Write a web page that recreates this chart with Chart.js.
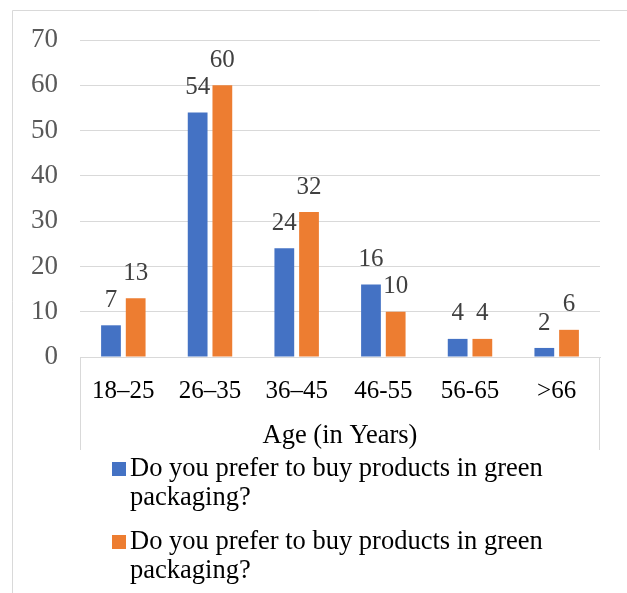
<!DOCTYPE html>
<html>
<head>
<meta charset="utf-8">
<script src="https://cdn.jsdelivr.net/npm/chart.js@4"></script>
<style>
  html, body { margin: 0; padding: 0; background: #fff; }
  canvas { display: block; }
</style>
</head>
<body>
<canvas id="ageChart" width="627" height="593"></canvas>
<script>
const ageGroups = ['18–25', '26–35', '36–45', '46-55', '56-65', '>66'];
const seriesLabels = [
  ['Do you prefer to buy products in green', 'packaging?'],
  ['Do you prefer to buy products in green', 'packaging?']
];
const preferBlue = [7, 54, 24, 16, 4, 2];
const preferOrange = [13, 60, 32, 10, 4, 6];
const yTicks = [0, 10, 20, 30, 40, 50, 60, 70];

const serif = '"Liberation Serif", "Times New Roman", serif';

// frame, axis box, value labels and the legend drawn onto the canvas
const decorations = {
  id: 'decorations',
  beforeDraw(chart) {
    const ctx = chart.ctx;
    ctx.save();
    ctx.fillStyle = '#fff';
    ctx.fillRect(0, 0, chart.width, chart.height);
    ctx.strokeStyle = '#d9d9d9';
    ctx.lineWidth = 1;
    ctx.beginPath();
    ctx.moveTo(12.5, chart.height);
    ctx.lineTo(12.5, 10.5);
    ctx.lineTo(chart.width, 10.5);
    ctx.stroke();
    ctx.restore();
  },
  afterDraw(chart) {
    const ctx = chart.ctx;
    const area = chart.chartArea;
    const xs = chart.scales.x;
    ctx.save();
    // box around the category labels
    ctx.strokeStyle = '#d9d9d9';
    ctx.lineWidth = 1;
    ctx.beginPath();
    ctx.moveTo(Math.round(area.left) + 0.5, area.bottom);
    ctx.lineTo(Math.round(area.left) + 0.5, xs.bottom);
    ctx.moveTo(Math.round(area.right) - 0.5, area.bottom);
    ctx.lineTo(Math.round(area.right) - 0.5, xs.bottom);
    ctx.stroke();

    // value labels above bars
    ctx.font = '25px ' + serif;
    ctx.fillStyle = '#404040';
    ctx.textAlign = 'center';
    ctx.textBaseline = 'middle';
    chart.data.datasets.forEach((ds, i) => {
      chart.getDatasetMeta(i).data.forEach((bar, j) => {
        ctx.fillText(String(ds.data[j]), bar.x, bar.y - 25);
      });
    });

    // legend
    ctx.font = '26.5px ' + serif;
    ctx.textAlign = 'left';
    let y = 469;
    chart.data.datasets.forEach((ds) => {
      ctx.fillStyle = ds.backgroundColor;
      ctx.fillRect(112, y - 7, 14, 14);
      ctx.fillStyle = '#000';
      ds.label.forEach((line, k) => {
        ctx.fillText(line, 130, y + k * 29);
      });
      y += 73;
    });
    ctx.restore();
  }
};

new Chart(document.getElementById('ageChart').getContext('2d'), {
  type: 'bar',
  data: {
    labels: ageGroups,
    datasets: [
      {
        label: seriesLabels[0],
        data: preferBlue,
        backgroundColor: '#4472c4',
        categoryPercentage: 0.57,
        barPercentage: 0.8
      },
      {
        label: seriesLabels[1],
        data: preferOrange,
        backgroundColor: '#ed7d31',
        categoryPercentage: 0.57,
        barPercentage: 0.8
      }
    ]
  },
  options: {
    responsive: false,
    animation: false,
    devicePixelRatio: 1,
    layout: { padding: { left: 13, right: 27, top: 40, bottom: 143 } },
    plugins: {
      legend: { display: false },
      tooltip: { enabled: false }
    },
    scales: {
      x: {
        grid: { display: false, drawTicks: false },
        border: { display: true, color: '#d9d9d9', width: 1 },
        ticks: { color: '#000', font: { family: serif, size: 25 }, padding: 19, maxRotation: 0 },
        title: { display: true, text: 'Age (in Years)', color: '#000', font: { family: serif, size: 26.5 }, padding: { top: 0, bottom: -2 } },
        afterFit(scale) { scale.height = 93; }
      },
      y: {
        min: 0,
        max: 70,
        afterBuildTicks(scale) { scale.ticks = yTicks.map(v => ({ value: v })); },
        grid: { color: '#d9d9d9', drawTicks: false },
        border: { display: false },
        ticks: { color: '#595959', font: { family: serif, size: 27 }, padding: 22 },
        afterFit(scale) { scale.width = 67; }
      }
    }
  },
  plugins: [decorations]
});
</script>
</body>
</html>
